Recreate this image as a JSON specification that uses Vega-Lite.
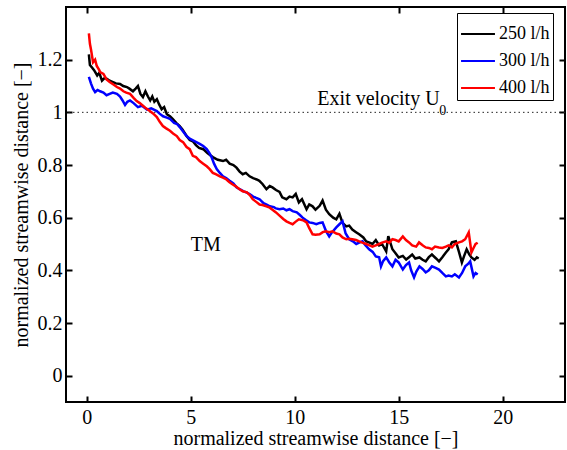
{
  "$schema": "https://vega.github.io/schema/vega-lite/v6.json",
  "autosize": "none",
  "padding": {"left": 66, "top": 7, "right": 2, "bottom": 48},
  "width": 499,
  "height": 395,
  "config": {
    "font": "Liberation Serif",
    "view": {"stroke": "black", "strokeWidth": 2},
    "text": {"font": "Liberation Serif"},
    "legend": {"labelFont": "Liberation Serif"},
    "axis": {"grid": false, "domain": false, "tickColor": "black", "tickWidth": 2, "tickSize": 6, "offset": -6, "labelColor": "black", "labelFont": "Liberation Serif", "labelFontSize": 20, "titleFont": "Liberation Serif", "titleFontSize": 20, "titleFontWeight": "normal", "titleColor": "black"}
  },
  "resolve": {"axis": {"x": "independent", "y": "independent"}},
  "datasets": {
    "curves": [
      {"s":"250 l/h","x":0.1,"y":1.22},{"s":"250 l/h","x":0.15,"y":1.18},{"s":"250 l/h","x":0.25,"y":1.17},{"s":"250 l/h","x":0.35,"y":1.16},{"s":"250 l/h","x":0.5,"y":1.14},{"s":"250 l/h","x":0.6,"y":1.15},{"s":"250 l/h","x":0.73,"y":1.12},{"s":"250 l/h","x":0.85,"y":1.13},{"s":"250 l/h","x":0.97,"y":1.127},{"s":"250 l/h","x":1.1,"y":1.12},{"s":"250 l/h","x":1.26,"y":1.115},{"s":"250 l/h","x":1.4,"y":1.11},{"s":"250 l/h","x":1.6,"y":1.108},{"s":"250 l/h","x":1.75,"y":1.1},{"s":"250 l/h","x":1.93,"y":1.096},{"s":"250 l/h","x":2.05,"y":1.09},{"s":"250 l/h","x":2.22,"y":1.08},{"s":"250 l/h","x":2.35,"y":1.09},{"s":"250 l/h","x":2.46,"y":1.1},{"s":"250 l/h","x":2.58,"y":1.07},{"s":"250 l/h","x":2.7,"y":1.058},{"s":"250 l/h","x":2.82,"y":1.08},{"s":"250 l/h","x":2.94,"y":1.06},{"s":"250 l/h","x":3.05,"y":1.045},{"s":"250 l/h","x":3.15,"y":1.06},{"s":"250 l/h","x":3.25,"y":1.04},{"s":"250 l/h","x":3.37,"y":1.05},{"s":"250 l/h","x":3.48,"y":1.03},{"s":"250 l/h","x":3.6,"y":1.012},{"s":"250 l/h","x":3.72,"y":1.02},{"s":"250 l/h","x":3.85,"y":0.993},{"s":"250 l/h","x":4.0,"y":0.985},{"s":"250 l/h","x":4.14,"y":0.974},{"s":"250 l/h","x":4.3,"y":0.96},{"s":"250 l/h","x":4.47,"y":0.948},{"s":"250 l/h","x":4.6,"y":0.935},{"s":"250 l/h","x":4.8,"y":0.91},{"s":"250 l/h","x":4.95,"y":0.895},{"s":"250 l/h","x":5.1,"y":0.89},{"s":"250 l/h","x":5.25,"y":0.875},{"s":"250 l/h","x":5.4,"y":0.865},{"s":"250 l/h","x":5.6,"y":0.86},{"s":"250 l/h","x":5.8,"y":0.845},{"s":"250 l/h","x":6.06,"y":0.83},{"s":"250 l/h","x":6.3,"y":0.82},{"s":"250 l/h","x":6.55,"y":0.815},{"s":"250 l/h","x":6.7,"y":0.82},{"s":"250 l/h","x":6.87,"y":0.805},{"s":"250 l/h","x":7.05,"y":0.8},{"s":"250 l/h","x":7.2,"y":0.79},{"s":"250 l/h","x":7.35,"y":0.775},{"s":"250 l/h","x":7.5,"y":0.765},{"s":"250 l/h","x":7.65,"y":0.77},{"s":"250 l/h","x":7.83,"y":0.757},{"s":"250 l/h","x":8.0,"y":0.75},{"s":"250 l/h","x":8.17,"y":0.745},{"s":"250 l/h","x":8.3,"y":0.74},{"s":"250 l/h","x":8.46,"y":0.727},{"s":"250 l/h","x":8.64,"y":0.708},{"s":"250 l/h","x":8.8,"y":0.72},{"s":"250 l/h","x":8.93,"y":0.715},{"s":"250 l/h","x":9.1,"y":0.705},{"s":"250 l/h","x":9.27,"y":0.698},{"s":"250 l/h","x":9.4,"y":0.677},{"s":"250 l/h","x":9.6,"y":0.67},{"s":"250 l/h","x":9.75,"y":0.68},{"s":"250 l/h","x":9.9,"y":0.677},{"s":"250 l/h","x":10.05,"y":0.69},{"s":"250 l/h","x":10.2,"y":0.658},{"s":"250 l/h","x":10.35,"y":0.67},{"s":"250 l/h","x":10.57,"y":0.632},{"s":"250 l/h","x":10.7,"y":0.65},{"s":"250 l/h","x":10.86,"y":0.643},{"s":"250 l/h","x":11.0,"y":0.63},{"s":"250 l/h","x":11.2,"y":0.645},{"s":"250 l/h","x":11.34,"y":0.665},{"s":"250 l/h","x":11.5,"y":0.63},{"s":"250 l/h","x":11.66,"y":0.613},{"s":"250 l/h","x":11.85,"y":0.6},{"s":"250 l/h","x":12.0,"y":0.594},{"s":"250 l/h","x":12.15,"y":0.615},{"s":"250 l/h","x":12.3,"y":0.58},{"s":"250 l/h","x":12.48,"y":0.567},{"s":"250 l/h","x":12.62,"y":0.57},{"s":"250 l/h","x":12.77,"y":0.555},{"s":"250 l/h","x":12.95,"y":0.545},{"s":"250 l/h","x":13.1,"y":0.537},{"s":"250 l/h","x":13.3,"y":0.525},{"s":"250 l/h","x":13.44,"y":0.51},{"s":"250 l/h","x":13.6,"y":0.505},{"s":"250 l/h","x":13.74,"y":0.5},{"s":"250 l/h","x":13.9,"y":0.515},{"s":"250 l/h","x":14.06,"y":0.495},{"s":"250 l/h","x":14.2,"y":0.5},{"s":"250 l/h","x":14.4,"y":0.472},{"s":"250 l/h","x":14.5,"y":0.53},{"s":"250 l/h","x":14.7,"y":0.48},{"s":"250 l/h","x":14.85,"y":0.465},{"s":"250 l/h","x":15.0,"y":0.449},{"s":"250 l/h","x":15.2,"y":0.455},{"s":"250 l/h","x":15.36,"y":0.441},{"s":"250 l/h","x":15.5,"y":0.45},{"s":"250 l/h","x":15.65,"y":0.46},{"s":"250 l/h","x":15.8,"y":0.445},{"s":"250 l/h","x":16.0,"y":0.449},{"s":"250 l/h","x":16.15,"y":0.44},{"s":"250 l/h","x":16.3,"y":0.434},{"s":"250 l/h","x":16.45,"y":0.45},{"s":"250 l/h","x":16.6,"y":0.46},{"s":"250 l/h","x":16.8,"y":0.445},{"s":"250 l/h","x":16.94,"y":0.434},{"s":"250 l/h","x":17.1,"y":0.45},{"s":"250 l/h","x":17.27,"y":0.468},{"s":"250 l/h","x":17.4,"y":0.48},{"s":"250 l/h","x":17.56,"y":0.506},{"s":"250 l/h","x":17.75,"y":0.51},{"s":"250 l/h","x":17.9,"y":0.47},{"s":"250 l/h","x":18.04,"y":0.43},{"s":"250 l/h","x":18.15,"y":0.455},{"s":"250 l/h","x":18.27,"y":0.48},{"s":"250 l/h","x":18.4,"y":0.46},{"s":"250 l/h","x":18.5,"y":0.449},{"s":"250 l/h","x":18.65,"y":0.44},{"s":"250 l/h","x":18.76,"y":0.449},{"s":"250 l/h","x":18.85,"y":0.445},
      {"s":"300 l/h","x":0.1,"y":1.135},{"s":"300 l/h","x":0.2,"y":1.11},{"s":"300 l/h","x":0.3,"y":1.09},{"s":"300 l/h","x":0.4,"y":1.077},{"s":"300 l/h","x":0.52,"y":1.085},{"s":"300 l/h","x":0.64,"y":1.08},{"s":"300 l/h","x":0.8,"y":1.075},{"s":"300 l/h","x":0.95,"y":1.065},{"s":"300 l/h","x":1.1,"y":1.07},{"s":"300 l/h","x":1.25,"y":1.075},{"s":"300 l/h","x":1.45,"y":1.07},{"s":"300 l/h","x":1.6,"y":1.06},{"s":"300 l/h","x":1.72,"y":1.045},{"s":"300 l/h","x":1.84,"y":1.028},{"s":"300 l/h","x":1.95,"y":1.04},{"s":"300 l/h","x":2.08,"y":1.045},{"s":"300 l/h","x":2.25,"y":1.035},{"s":"300 l/h","x":2.46,"y":1.02},{"s":"300 l/h","x":2.65,"y":1.025},{"s":"300 l/h","x":2.9,"y":1.01},{"s":"300 l/h","x":3.1,"y":1.015},{"s":"300 l/h","x":3.37,"y":1.005},{"s":"300 l/h","x":3.5,"y":0.995},{"s":"300 l/h","x":3.67,"y":0.985},{"s":"300 l/h","x":3.85,"y":0.98},{"s":"300 l/h","x":4.0,"y":0.975},{"s":"300 l/h","x":4.2,"y":0.96},{"s":"300 l/h","x":4.35,"y":0.955},{"s":"300 l/h","x":4.47,"y":0.944},{"s":"300 l/h","x":4.65,"y":0.925},{"s":"300 l/h","x":4.8,"y":0.91},{"s":"300 l/h","x":4.95,"y":0.9},{"s":"300 l/h","x":5.2,"y":0.89},{"s":"300 l/h","x":5.43,"y":0.88},{"s":"300 l/h","x":5.6,"y":0.872},{"s":"300 l/h","x":5.77,"y":0.86},{"s":"300 l/h","x":5.9,"y":0.845},{"s":"300 l/h","x":6.0,"y":0.83},{"s":"300 l/h","x":6.12,"y":0.805},{"s":"300 l/h","x":6.25,"y":0.785},{"s":"300 l/h","x":6.4,"y":0.77},{"s":"300 l/h","x":6.55,"y":0.757},{"s":"300 l/h","x":6.7,"y":0.75},{"s":"300 l/h","x":6.87,"y":0.74},{"s":"300 l/h","x":7.05,"y":0.73},{"s":"300 l/h","x":7.2,"y":0.715},{"s":"300 l/h","x":7.35,"y":0.708},{"s":"300 l/h","x":7.55,"y":0.7},{"s":"300 l/h","x":7.7,"y":0.695},{"s":"300 l/h","x":7.83,"y":0.69},{"s":"300 l/h","x":8.0,"y":0.68},{"s":"300 l/h","x":8.15,"y":0.675},{"s":"300 l/h","x":8.31,"y":0.67},{"s":"300 l/h","x":8.5,"y":0.655},{"s":"300 l/h","x":8.65,"y":0.65},{"s":"300 l/h","x":8.8,"y":0.643},{"s":"300 l/h","x":9.0,"y":0.64},{"s":"300 l/h","x":9.1,"y":0.635},{"s":"300 l/h","x":9.27,"y":0.632},{"s":"300 l/h","x":9.45,"y":0.635},{"s":"300 l/h","x":9.6,"y":0.628},{"s":"300 l/h","x":9.75,"y":0.632},{"s":"300 l/h","x":9.9,"y":0.625},{"s":"300 l/h","x":10.1,"y":0.62},{"s":"300 l/h","x":10.25,"y":0.61},{"s":"300 l/h","x":10.38,"y":0.6},{"s":"300 l/h","x":10.55,"y":0.59},{"s":"300 l/h","x":10.7,"y":0.582},{"s":"300 l/h","x":10.86,"y":0.58},{"s":"300 l/h","x":11.04,"y":0.575},{"s":"300 l/h","x":11.2,"y":0.58},{"s":"300 l/h","x":11.34,"y":0.582},{"s":"300 l/h","x":11.5,"y":0.55},{"s":"300 l/h","x":11.66,"y":0.529},{"s":"300 l/h","x":11.8,"y":0.545},{"s":"300 l/h","x":12.0,"y":0.563},{"s":"300 l/h","x":12.15,"y":0.575},{"s":"300 l/h","x":12.3,"y":0.586},{"s":"300 l/h","x":12.45,"y":0.54},{"s":"300 l/h","x":12.62,"y":0.518},{"s":"300 l/h","x":12.8,"y":0.51},{"s":"300 l/h","x":12.96,"y":0.5},{"s":"300 l/h","x":13.1,"y":0.505},{"s":"300 l/h","x":13.26,"y":0.51},{"s":"300 l/h","x":13.4,"y":0.495},{"s":"300 l/h","x":13.58,"y":0.48},{"s":"300 l/h","x":13.75,"y":0.47},{"s":"300 l/h","x":13.9,"y":0.453},{"s":"300 l/h","x":14.06,"y":0.45},{"s":"300 l/h","x":14.15,"y":0.415},{"s":"300 l/h","x":14.25,"y":0.435},{"s":"300 l/h","x":14.4,"y":0.449},{"s":"300 l/h","x":14.55,"y":0.43},{"s":"300 l/h","x":14.7,"y":0.415},{"s":"300 l/h","x":14.85,"y":0.44},{"s":"300 l/h","x":15.0,"y":0.43},{"s":"300 l/h","x":15.2,"y":0.403},{"s":"300 l/h","x":15.35,"y":0.42},{"s":"300 l/h","x":15.5,"y":0.43},{"s":"300 l/h","x":15.6,"y":0.4},{"s":"300 l/h","x":15.74,"y":0.373},{"s":"300 l/h","x":15.85,"y":0.395},{"s":"300 l/h","x":16.0,"y":0.415},{"s":"300 l/h","x":16.15,"y":0.405},{"s":"300 l/h","x":16.3,"y":0.392},{"s":"300 l/h","x":16.45,"y":0.4},{"s":"300 l/h","x":16.6,"y":0.415},{"s":"300 l/h","x":16.75,"y":0.41},{"s":"300 l/h","x":16.94,"y":0.403},{"s":"300 l/h","x":17.1,"y":0.39},{"s":"300 l/h","x":17.27,"y":0.377},{"s":"300 l/h","x":17.4,"y":0.38},{"s":"300 l/h","x":17.56,"y":0.377},{"s":"300 l/h","x":17.7,"y":0.385},{"s":"300 l/h","x":17.9,"y":0.373},{"s":"300 l/h","x":18.05,"y":0.39},{"s":"300 l/h","x":18.2,"y":0.415},{"s":"300 l/h","x":18.35,"y":0.425},{"s":"300 l/h","x":18.44,"y":0.434},{"s":"300 l/h","x":18.6,"y":0.377},{"s":"300 l/h","x":18.7,"y":0.39},{"s":"300 l/h","x":18.8,"y":0.384},
      {"s":"400 l/h","x":0.1,"y":1.3},{"s":"400 l/h","x":0.15,"y":1.26},{"s":"400 l/h","x":0.2,"y":1.24},{"s":"400 l/h","x":0.3,"y":1.19},{"s":"400 l/h","x":0.4,"y":1.2},{"s":"400 l/h","x":0.48,"y":1.176},{"s":"400 l/h","x":0.6,"y":1.16},{"s":"400 l/h","x":0.64,"y":1.153},{"s":"400 l/h","x":0.8,"y":1.146},{"s":"400 l/h","x":0.95,"y":1.125},{"s":"400 l/h","x":1.1,"y":1.115},{"s":"400 l/h","x":1.3,"y":1.105},{"s":"400 l/h","x":1.45,"y":1.096},{"s":"400 l/h","x":1.6,"y":1.09},{"s":"400 l/h","x":1.76,"y":1.08},{"s":"400 l/h","x":1.9,"y":1.075},{"s":"400 l/h","x":2.08,"y":1.07},{"s":"400 l/h","x":2.25,"y":1.055},{"s":"400 l/h","x":2.4,"y":1.043},{"s":"400 l/h","x":2.55,"y":1.035},{"s":"400 l/h","x":2.7,"y":1.025},{"s":"400 l/h","x":2.85,"y":1.015},{"s":"400 l/h","x":3.03,"y":1.005},{"s":"400 l/h","x":3.2,"y":0.995},{"s":"400 l/h","x":3.37,"y":0.982},{"s":"400 l/h","x":3.5,"y":0.965},{"s":"400 l/h","x":3.66,"y":0.948},{"s":"400 l/h","x":3.8,"y":0.94},{"s":"400 l/h","x":4.0,"y":0.93},{"s":"400 l/h","x":4.15,"y":0.92},{"s":"400 l/h","x":4.33,"y":0.91},{"s":"400 l/h","x":4.47,"y":0.895},{"s":"400 l/h","x":4.63,"y":0.887},{"s":"400 l/h","x":4.8,"y":0.868},{"s":"400 l/h","x":4.95,"y":0.86},{"s":"400 l/h","x":5.1,"y":0.835},{"s":"400 l/h","x":5.25,"y":0.83},{"s":"400 l/h","x":5.43,"y":0.815},{"s":"400 l/h","x":5.6,"y":0.805},{"s":"400 l/h","x":5.77,"y":0.795},{"s":"400 l/h","x":5.9,"y":0.785},{"s":"400 l/h","x":6.06,"y":0.77},{"s":"400 l/h","x":6.2,"y":0.765},{"s":"400 l/h","x":6.4,"y":0.757},{"s":"400 l/h","x":6.55,"y":0.752},{"s":"400 l/h","x":6.72,"y":0.745},{"s":"400 l/h","x":6.85,"y":0.735},{"s":"400 l/h","x":7.0,"y":0.727},{"s":"400 l/h","x":7.15,"y":0.72},{"s":"400 l/h","x":7.35,"y":0.708},{"s":"400 l/h","x":7.5,"y":0.7},{"s":"400 l/h","x":7.7,"y":0.696},{"s":"400 l/h","x":7.85,"y":0.685},{"s":"400 l/h","x":7.98,"y":0.67},{"s":"400 l/h","x":8.15,"y":0.66},{"s":"400 l/h","x":8.31,"y":0.65},{"s":"400 l/h","x":8.45,"y":0.648},{"s":"400 l/h","x":8.64,"y":0.643},{"s":"400 l/h","x":8.8,"y":0.638},{"s":"400 l/h","x":8.93,"y":0.63},{"s":"400 l/h","x":9.1,"y":0.62},{"s":"400 l/h","x":9.27,"y":0.608},{"s":"400 l/h","x":9.45,"y":0.595},{"s":"400 l/h","x":9.6,"y":0.586},{"s":"400 l/h","x":9.75,"y":0.58},{"s":"400 l/h","x":9.9,"y":0.575},{"s":"400 l/h","x":10.05,"y":0.585},{"s":"400 l/h","x":10.2,"y":0.594},{"s":"400 l/h","x":10.4,"y":0.59},{"s":"400 l/h","x":10.57,"y":0.582},{"s":"400 l/h","x":10.7,"y":0.56},{"s":"400 l/h","x":10.86,"y":0.537},{"s":"400 l/h","x":11.0,"y":0.535},{"s":"400 l/h","x":11.2,"y":0.537},{"s":"400 l/h","x":11.35,"y":0.545},{"s":"400 l/h","x":11.5,"y":0.548},{"s":"400 l/h","x":11.66,"y":0.545},{"s":"400 l/h","x":11.82,"y":0.548},{"s":"400 l/h","x":12.0,"y":0.54},{"s":"400 l/h","x":12.15,"y":0.537},{"s":"400 l/h","x":12.3,"y":0.525},{"s":"400 l/h","x":12.48,"y":0.518},{"s":"400 l/h","x":12.62,"y":0.52},{"s":"400 l/h","x":12.77,"y":0.518},{"s":"400 l/h","x":12.95,"y":0.515},{"s":"400 l/h","x":13.1,"y":0.51},{"s":"400 l/h","x":13.25,"y":0.505},{"s":"400 l/h","x":13.44,"y":0.5},{"s":"400 l/h","x":13.6,"y":0.495},{"s":"400 l/h","x":13.74,"y":0.49},{"s":"400 l/h","x":13.9,"y":0.495},{"s":"400 l/h","x":14.06,"y":0.5},{"s":"400 l/h","x":14.2,"y":0.505},{"s":"400 l/h","x":14.4,"y":0.51},{"s":"400 l/h","x":14.55,"y":0.505},{"s":"400 l/h","x":14.7,"y":0.518},{"s":"400 l/h","x":14.85,"y":0.515},{"s":"400 l/h","x":15.0,"y":0.51},{"s":"400 l/h","x":15.2,"y":0.529},{"s":"400 l/h","x":15.35,"y":0.515},{"s":"400 l/h","x":15.5,"y":0.506},{"s":"400 l/h","x":15.65,"y":0.495},{"s":"400 l/h","x":15.84,"y":0.49},{"s":"400 l/h","x":15.98,"y":0.506},{"s":"400 l/h","x":16.15,"y":0.495},{"s":"400 l/h","x":16.3,"y":0.487},{"s":"400 l/h","x":16.45,"y":0.485},{"s":"400 l/h","x":16.6,"y":0.48},{"s":"400 l/h","x":16.75,"y":0.49},{"s":"400 l/h","x":16.94,"y":0.487},{"s":"400 l/h","x":17.1,"y":0.485},{"s":"400 l/h","x":17.27,"y":0.49},{"s":"400 l/h","x":17.4,"y":0.495},{"s":"400 l/h","x":17.56,"y":0.487},{"s":"400 l/h","x":17.7,"y":0.5},{"s":"400 l/h","x":17.9,"y":0.506},{"s":"400 l/h","x":18.05,"y":0.51},{"s":"400 l/h","x":18.2,"y":0.518},{"s":"400 l/h","x":18.37,"y":0.544},{"s":"400 l/h","x":18.5,"y":0.468},{"s":"400 l/h","x":18.6,"y":0.485},{"s":"400 l/h","x":18.7,"y":0.5},{"s":"400 l/h","x":18.8,"y":0.505}
    ],
    "notes": [
      {"x": 11.09, "y": 1.028, "t": "Exit velocity U", "k": "main"},
      {"x": 16.95, "y": 0.99, "t": "0", "k": "sub"},
      {"x": 5.72, "y": 0.473, "t": "TM", "k": "tm"}
    ],
    "ref": [{"y": 1}]
  },
  "layer": [
    {
      "data": {"name": "ref"},
      "mark": {"type": "rule", "strokeDash": [1.5, 3], "strokeWidth": 1, "color": "#222222"},
      "encoding": {
        "y": {"field": "y", "type": "quantitative", "scale": {"domain": [-0.1, 1.4], "nice": false, "zero": false},
          "axis": {"orient": "right", "values": [0, 0.2, 0.4, 0.6, 0.8, 1, 1.2], "labels": false, "title": null}}
      }
    },
    {
      "data": {"name": "curves"},
      "mark": {"type": "line", "strokeWidth": 2.5},
      "encoding": {
        "x": {"field": "x", "type": "quantitative", "scale": {"domain": [-1, 23], "nice": false, "zero": false},
          "axis": {"values": [0, 5, 10, 15, 20], "title": "normalized streamwise distance [\u2212]", "titlePadding": 1, "labelPadding": 5}},
        "y": {"field": "y", "type": "quantitative", "scale": {"domain": [-0.1, 1.4], "nice": false, "zero": false},
          "axis": {"values": [0, 0.2, 0.4, 0.6, 0.8, 1, 1.2], "format": "~g", "title": "normalized streamwise distance [\u2212]", "titlePadding": 6, "labelPadding": 4}},
        "color": {"field": "s", "type": "nominal",
          "scale": {"domain": ["250 l/h", "300 l/h", "400 l/h"], "range": ["#000000", "#0000ff", "#ff0000"]},
          "legend": {"title": null, "orient": "none", "legendX": 391, "legendY": 6, "symbolType": "stroke", "symbolSize": 1150, "symbolStrokeWidth": 2, "labelFontSize": 18, "labelFont": "Liberation Serif", "labelColor": "black", "strokeColor": "black", "fillColor": "white", "padding": 3, "rowPadding": -22, "labelOffset": 3}}
      }
    },
    {
      "data": {"name": "notes"},
      "transform": [{"filter": "datum.k === 'main'"}],
      "mark": {"type": "text", "align": "left", "baseline": "alphabetic", "fontSize": 20, "color": "black", "font": "Liberation Serif"},
      "encoding": {
        "x": {"field": "x", "type": "quantitative", "scale": {"domain": [-1, 23], "nice": false, "zero": false},
          "axis": {"orient": "top", "values": [0, 5, 10, 15, 20], "labels": false, "title": null}},
        "y": {"field": "y", "type": "quantitative", "scale": {"domain": [-0.1, 1.4], "nice": false, "zero": false}, "axis": null},
        "text": {"field": "t"}
      }
    },
    {
      "data": {"name": "notes"},
      "transform": [{"filter": "datum.k === 'sub'"}],
      "mark": {"type": "text", "align": "left", "baseline": "alphabetic", "fontSize": 14, "color": "black", "font": "Liberation Serif"},
      "encoding": {
        "x": {"field": "x", "type": "quantitative", "axis": null},
        "y": {"field": "y", "type": "quantitative", "axis": null},
        "text": {"field": "t"}
      }
    },
    {
      "data": {"name": "notes"},
      "transform": [{"filter": "datum.k === 'tm'"}],
      "mark": {"type": "text", "align": "center", "baseline": "alphabetic", "fontSize": 20, "color": "black", "font": "Liberation Serif"},
      "encoding": {
        "x": {"field": "x", "type": "quantitative", "axis": null},
        "y": {"field": "y", "type": "quantitative", "axis": null},
        "text": {"field": "t"}
      }
    }
  ]
}
